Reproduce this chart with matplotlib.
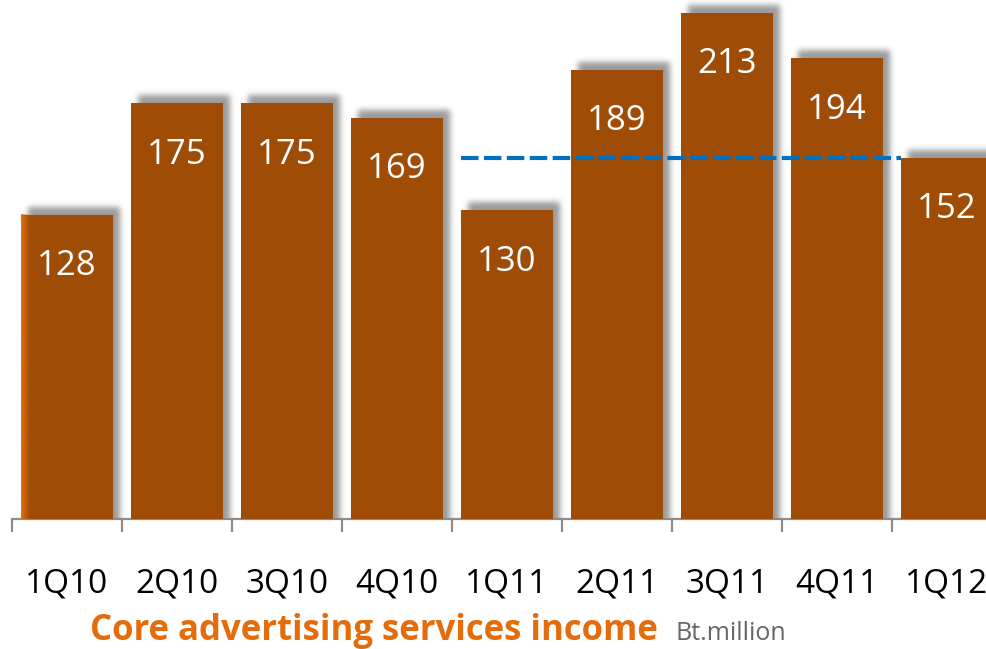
import numpy as np
import matplotlib
matplotlib.use("Agg")
import matplotlib.pyplot as plt
from matplotlib.colors import to_rgb

plt.rcParams['font.family'] = ['Open Sans', 'DejaVu Sans']

# quarterly data, Bt.million
quarters = ['1Q10', '2Q10', '3Q10', '4Q10', '1Q11', '2Q11', '3Q11', '4Q11', '1Q12']
income = [128, 175, 175, 169, 130, 189, 213, 194, 152]
ref_level = 152          # dashed reference line
ref_from, ref_to = 4, 8  # from 1Q11 bar to 1Q12 bar

BAR_COLOR = '#9e4c06'
EDGE_ORANGE = '#e8730c'
TITLE_COLOR = '#e46c0a'
W, H = 987, 649
BAR_W = 0.84

fig = plt.figure(figsize=(W / 100, H / 100), dpi=100)
base_px = 519
ax_w = 990
ax = fig.add_axes([12 / W, (H - base_px) / H, ax_w / W, base_px / H])
ymax = 213 * base_px / 506
xlim = (-0.5, 8.5)

# pixel <-> data conversion (fixed layout)
px_x = (xlim[1] - xlim[0]) / ax_w
px_y = ymax / base_px

x = np.arange(len(quarters))

# blurred drop shadow, offset up and right
pad = 40
mask = np.zeros((base_px + 2 * pad, ax_w + 2 * pad))
off_x, off_y = 7, 8
for xi, v in zip(x, income):
    c0 = int(round((xi - BAR_W / 2 - xlim[0]) / px_x)) + off_x + pad
    c1 = int(round((xi + BAR_W / 2 - xlim[0]) / px_x)) + off_x + pad
    r0 = int(round(base_px - v / px_y)) - off_y + pad
    mask[r0:, c0:c1] = 1.0
sig = 3.0
k = np.arange(-12, 13)
kern = np.exp(-k ** 2 / (2 * sig ** 2))
kern /= kern.sum()
mask = np.apply_along_axis(lambda r: np.convolve(r, kern, mode='same'), 1, mask)
mask = np.apply_along_axis(lambda c: np.convolve(c, kern, mode='same'), 0, mask)
mask = mask[pad:-pad, pad:-pad]
shadow = np.zeros(mask.shape + (4,))
shadow[..., 3] = mask * 0.40
ax.imshow(shadow, extent=[xlim[0], xlim[1], 0, ymax], aspect='auto',
          zorder=2, interpolation='nearest')

ax.bar(x, income, width=BAR_W, color=BAR_COLOR, zorder=3)

# orange glow on the left edge of the first bar
grad = np.zeros((1, 32, 4))
grad[..., :3] = np.array(to_rgb(EDGE_ORANGE))
grad[..., 3] = np.linspace(1, 0, 32) ** 1.3
x_left = x[0] - BAR_W / 2
ax.imshow(grad, extent=[x_left, x_left + 9 * px_x, 0, income[0]],
          aspect='auto', zorder=3.5, interpolation='bilinear')

# value labels inside the bars
for xi, v in zip(x, income):
    ax.annotate(str(v), (xi, v), xytext=(0, -37), textcoords='offset points',
                ha='center', va='center', color='white', fontsize=25, zorder=5)

# dashed reference line
ax.plot([x[ref_from] - BAR_W / 2, x[ref_to] - BAR_W / 2], [ref_level, ref_level],
        color='#0070c0', lw=3, dashes=(4.2, 1.3), zorder=4)

ax.set_xlim(*xlim)
ax.set_ylim(0, ymax)

for side in ['top', 'right', 'left']:
    ax.spines[side].set_visible(False)
ax.spines['bottom'].set_color('#8c8c8c')
ax.spines['bottom'].set_linewidth(1.6)
ax.set_yticks([])

ax.set_xticks(np.arange(-0.5, len(quarters)), labels=[''] * (len(quarters) + 1))
ax.tick_params(axis='x', which='major', length=9, width=1.6, color='#8c8c8c')
ax.set_xticks(x, labels=quarters, minor=True)
ax.tick_params(axis='x', which='minor', length=0, pad=35, labelsize=24,
               labelcolor='black')

fig.text(90 / W, 1 - 640 / H, 'Core advertising services income', color=TITLE_COLOR,
         fontsize=25, fontweight='bold', ha='left', va='baseline')
fig.text(676 / W, 1 - 640 / H, 'Bt.million', color='#666666', fontsize=18,
         ha='left', va='baseline')

fig.savefig('out.png', dpi=100)
